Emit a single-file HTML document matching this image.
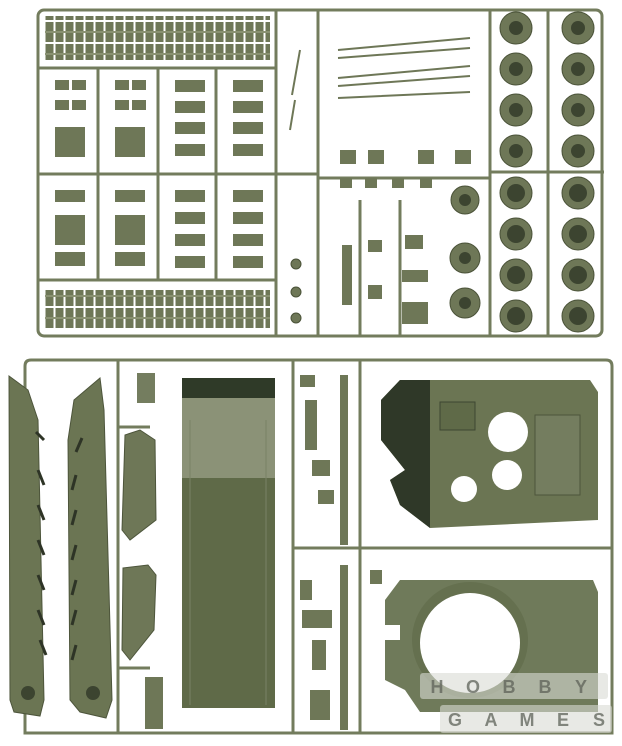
<!DOCTYPE html>
<html><head><meta charset="utf-8"><style>
html,body{margin:0;padding:0;background:#fff;width:622px;height:746px;overflow:hidden}
</style></head><body>
<svg width="622" height="746" viewBox="0 0 622 746" xmlns="http://www.w3.org/2000/svg">
<defs>
<pattern id="trk" x="45" y="0" width="10" height="22" patternUnits="userSpaceOnUse">
<rect x="0.5" y="0" width="8" height="20" fill="#6e7757"/><rect x="0" y="9" width="10" height="2" fill="#8a9273"/>
</pattern>
</defs>
<g fill="none" stroke="#737c5d" stroke-width="3">
<!-- upper frame -->
<rect x="38" y="10" width="564" height="326" rx="6"/>
<line x1="38" y1="68" x2="276" y2="68"/>
<line x1="38" y1="174" x2="318" y2="174"/>
<line x1="38" y1="280" x2="276" y2="280"/>
<line x1="276" y1="10" x2="276" y2="336"/>
<line x1="318" y1="10" x2="318" y2="336"/>
<line x1="490" y1="10" x2="490" y2="336"/>
<line x1="548" y1="10" x2="548" y2="336"/>
<line x1="98" y1="68" x2="98" y2="280"/>
<line x1="158" y1="68" x2="158" y2="280"/>
<line x1="216" y1="68" x2="216" y2="280"/>
<line x1="318" y1="178" x2="490" y2="178"/>
<line x1="360" y1="200" x2="360" y2="336"/>
<line x1="400" y1="200" x2="400" y2="336"/>
<line x1="490" y1="172" x2="604" y2="172"/>
<!-- lower frame -->
<path d="M25 733 L25 366 Q25 360 31 360 L606 360 Q612 360 612 366 L612 733 Z"/>
<line x1="118" y1="360" x2="118" y2="733"/>
<line x1="293" y1="360" x2="293" y2="733"/>
<line x1="360" y1="360" x2="360" y2="733"/>
<line x1="293" y1="548" x2="612" y2="548"/>
<line x1="118" y1="427" x2="150" y2="427"/>
<line x1="118" y1="668" x2="150" y2="668"/>
</g>
<!-- track rows -->
<rect x="45" y="16" width="225" height="44" fill="url(#trk)"/>
<rect x="45" y="290" width="225" height="40" fill="url(#trk)"/>
<!-- small parts upper left -->
<g fill="#6e7757">
<rect x="55" y="80" width="14" height="10"/><rect x="72" y="80" width="14" height="10"/>
<rect x="55" y="100" width="14" height="10"/><rect x="72" y="100" width="14" height="10"/>
<rect x="55" y="127" width="30" height="30"/>
<rect x="115" y="80" width="14" height="10"/><rect x="132" y="80" width="14" height="10"/>
<rect x="115" y="100" width="14" height="10"/><rect x="132" y="100" width="14" height="10"/>
<rect x="115" y="127" width="30" height="30"/>
<rect x="175" y="80" width="30" height="12"/><rect x="233" y="80" width="30" height="12"/>
<rect x="175" y="101" width="30" height="12"/><rect x="233" y="101" width="30" height="12"/>
<rect x="175" y="122" width="30" height="12"/><rect x="233" y="122" width="30" height="12"/>
<rect x="175" y="144" width="30" height="12"/><rect x="233" y="144" width="30" height="12"/>
<rect x="55" y="190" width="30" height="12"/><rect x="115" y="190" width="30" height="12"/>
<rect x="55" y="215" width="30" height="30"/><rect x="115" y="215" width="30" height="30"/>
<rect x="55" y="252" width="30" height="14"/><rect x="115" y="252" width="30" height="14"/>
<rect x="175" y="190" width="30" height="12"/><rect x="233" y="190" width="30" height="12"/>
<rect x="175" y="212" width="30" height="12"/><rect x="233" y="212" width="30" height="12"/>
<rect x="175" y="234" width="30" height="12"/><rect x="233" y="234" width="30" height="12"/>
<rect x="175" y="256" width="30" height="12"/><rect x="233" y="256" width="30" height="12"/>
<rect x="340" y="150" width="16" height="14"/><rect x="368" y="150" width="16" height="14"/>
<rect x="418" y="150" width="16" height="14"/><rect x="455" y="150" width="16" height="14"/>
<rect x="340" y="178" width="12" height="10"/><rect x="365" y="178" width="12" height="10"/><rect x="392" y="178" width="12" height="10"/><rect x="420" y="178" width="12" height="10"/>
<rect x="405" y="235" width="18" height="14"/><rect x="402" y="270" width="26" height="12"/><rect x="402" y="302" width="26" height="22"/>
<rect x="342" y="245" width="10" height="60"/><rect x="368" y="240" width="14" height="12"/><rect x="368" y="285" width="14" height="14"/>
</g>
<g fill="none" stroke="#6e7757" stroke-width="2">
<path d="M292 95 L300 50 M295 100 L290 130"/>
<path d="M338 50 L470 38 M338 58 L470 48 M338 78 L470 66 M338 86 L470 76 M338 98 L470 92"/>
</g>
<!-- upper right wheels -->
<g fill="#6e7757" stroke="#4a5238" stroke-width="1">
<circle cx="516" cy="28" r="16"/><circle cx="578" cy="28" r="16"/>
<circle cx="516" cy="69" r="16"/><circle cx="578" cy="69" r="16"/>
<circle cx="516" cy="110" r="16"/><circle cx="578" cy="110" r="16"/>
<circle cx="516" cy="151" r="16"/><circle cx="578" cy="151" r="16"/>
<circle cx="516" cy="193" r="16"/><circle cx="578" cy="193" r="16"/>
<circle cx="516" cy="234" r="16"/><circle cx="578" cy="234" r="16"/>
<circle cx="516" cy="275" r="16"/><circle cx="578" cy="275" r="16"/>
<circle cx="516" cy="316" r="16"/><circle cx="578" cy="316" r="16"/>
<circle cx="465" cy="200" r="14"/><circle cx="465" cy="258" r="15"/><circle cx="465" cy="303" r="15"/>
<circle cx="296" cy="264" r="5"/><circle cx="296" cy="292" r="5"/><circle cx="296" cy="318" r="5"/>
</g>
<g fill="#3c4430">
<circle cx="516" cy="28" r="7"/><circle cx="578" cy="28" r="7"/><circle cx="516" cy="69" r="7"/><circle cx="578" cy="69" r="7"/>
<circle cx="516" cy="110" r="7"/><circle cx="578" cy="110" r="7"/><circle cx="516" cy="151" r="7"/><circle cx="578" cy="151" r="7"/>
<circle cx="516" cy="193" r="9"/><circle cx="578" cy="193" r="9"/><circle cx="516" cy="234" r="9"/><circle cx="578" cy="234" r="9"/>
<circle cx="516" cy="275" r="9"/><circle cx="578" cy="275" r="9"/><circle cx="516" cy="316" r="9"/><circle cx="578" cy="316" r="9"/>
<circle cx="465" cy="200" r="6"/><circle cx="465" cy="258" r="6"/><circle cx="465" cy="303" r="6"/>
</g>
<!-- lower: side skirts -->
<path d="M9 376 L28 390 L38 420 L44 700 L40 716 L14 712 L10 700 Z" fill="#6b7553" stroke="#4d553b"/>
<path d="M100 378 L104 410 L112 700 L106 718 L80 712 L70 700 L68 440 L74 400 Z" fill="#6b7553" stroke="#4d553b"/>
<g stroke="#2e3426" stroke-width="3">
<line x1="36" y1="432" x2="44" y2="440"/><line x1="38" y1="470" x2="44" y2="485"/><line x1="38" y1="505" x2="44" y2="520"/><line x1="38" y1="540" x2="44" y2="555"/><line x1="38" y1="575" x2="44" y2="590"/><line x1="38" y1="610" x2="44" y2="625"/><line x1="40" y1="640" x2="46" y2="655"/>
<line x1="82" y1="438" x2="76" y2="452"/><line x1="76" y1="475" x2="72" y2="490"/><line x1="76" y1="510" x2="72" y2="525"/><line x1="76" y1="545" x2="72" y2="560"/><line x1="76" y1="580" x2="72" y2="595"/><line x1="76" y1="610" x2="72" y2="625"/><line x1="76" y1="645" x2="72" y2="660"/>
</g>
<circle cx="28" cy="693" r="7" fill="#3c4430"/><circle cx="93" cy="693" r="7" fill="#3c4430"/>
<!-- side plates -->
<path d="M125 435 L140 430 L155 440 L156 520 L130 540 L122 530 Z" fill="#6e7757" stroke="#4d553b"/>
<path d="M123 568 L148 565 L156 575 L154 630 L130 660 L122 650 Z" fill="#6e7757" stroke="#4d553b"/>
<rect x="137" y="373" width="18" height="30" fill="#747d5f"/>
<rect x="145" y="677" width="18" height="52" fill="#6e7757"/>
<!-- hull plate -->
<rect x="182" y="378" width="93" height="330" fill="#5f6a48"/>
<rect x="182" y="398" width="93" height="80" fill="#8b9277"/>
<rect x="182" y="378" width="93" height="20" fill="#2f3a28"/>
<line x1="190" y1="420" x2="190" y2="705" stroke="#7a8266"/><line x1="266" y1="420" x2="266" y2="705" stroke="#7a8266"/>
<!-- middle small parts -->
<g fill="#6e7757">
<rect x="340" y="375" width="8" height="170"/><rect x="340" y="565" width="8" height="165"/>
<rect x="300" y="375" width="15" height="12"/><rect x="305" y="400" width="12" height="50"/><rect x="312" y="460" width="18" height="16"/><rect x="318" y="490" width="16" height="14"/>
<rect x="300" y="580" width="12" height="20"/><rect x="302" y="610" width="30" height="18"/><rect x="312" y="640" width="14" height="30"/><rect x="310" y="690" width="20" height="30"/><rect x="370" y="570" width="12" height="14"/>
</g>
<!-- turret top -->
<path d="M381 400 L400 380 L590 380 L598 392 L598 520 L430 528 L400 505 L390 480 L405 470 L381 440 Z" fill="#6b7553"/>
<path d="M381 400 L400 380 L430 380 L430 528 L400 505 L390 480 L405 470 L381 440 Z" fill="#2f3828"/>
<rect x="440" y="402" width="35" height="28" fill="#5f6a48" stroke="#3e4632"/>
<rect x="535" y="415" width="45" height="80" fill="#747d5f" stroke="#4d553b"/>
<circle cx="508" cy="432" r="20" fill="#fff"/><circle cx="507" cy="475" r="15" fill="#fff"/><circle cx="464" cy="489" r="13" fill="#fff"/>
<!-- turret ring -->
<path d="M400 580 L593 580 L598 592 L598 712 L420 712 L405 690 L385 680 L385 640 L400 640 L400 625 L385 625 L385 600 Z" fill="#6f7a5a"/>
<circle cx="470" cy="640" r="58" fill="#65704f"/>
<circle cx="470" cy="643" r="50" fill="#fff"/>
<!-- watermark -->
<g font-family="Liberation Sans, sans-serif" font-weight="bold" font-size="18" fill="#5e6258" fill-opacity="0.75" text-anchor="middle">
<g fill="#d8dad4" fill-opacity="0.6">
<rect x="420" y="673" width="188" height="26" rx="3"/><rect x="440" y="705" width="172" height="28" rx="3"/>
</g>
<text x="437" y="693">H</text><text x="473" y="693">O</text><text x="509" y="693">B</text><text x="545" y="693">B</text><text x="581" y="693">Y</text>
<text x="455" y="726">G</text><text x="491" y="726">A</text><text x="527" y="726">M</text><text x="563" y="726">E</text><text x="599" y="726">S</text>
</g>
</svg>
</body></html>
